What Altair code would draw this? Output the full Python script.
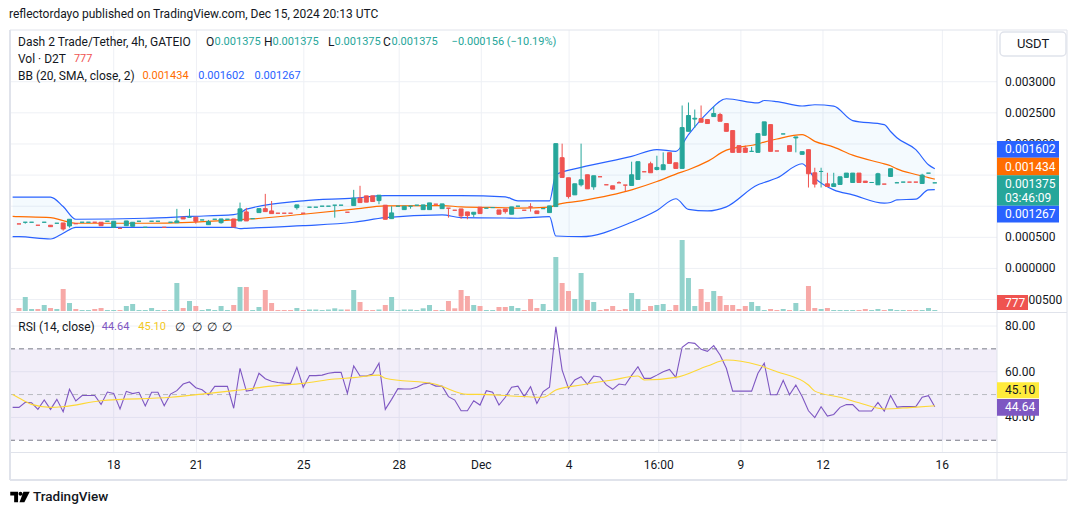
import altair as alt
import pandas as pd

FONT = "Roboto"
TEAL, RED = "#26a69a", "#ef5350"
TEAL_V, RED_V = "#92d2cc", "#f7a9a7"
BLUE, ORANGE, PURPLE, YELLOW = "#2962ff", "#ff6d00", "#7e57c2", "#fdd835"
TXT, GRID, BORDER = "#131722", "#eef0f5", "#e0e3eb"

# ---------------- data (prices in 1e-6 USDT) ----------------
tick_pos = [15.0, 28.1, 45.1, 60.2, 73.2, 87.1, 101.3, 114.3, 127.3, 146.2]
tick_lab = ["18", "21", "25", "28", "Dec", "4", "16:00", "9", "12", "16"]
grid_ticks = [-0.0005, 0.0, 0.0005, 0.001, 0.0015, 0.002, 0.0025, 0.003]
price_ticks = [-0.0005, 0.0, 0.0005, 0.002, 0.0025, 0.003]
price_tick_lab = ["\u22120.000500", "0.000000", "0.000500",
                  "0.002000", "0.002500", "0.003000"]
rsi_ticks = [40, 60, 80]
rsi_tick_lab = ["40.00", "60.00", "80.00"]

open_u = [715,742,742,694,742,694,726,731,682,719,
          742,742,742,742,758,661,645,687,677,758,
          661,758,758,661,742,735,823,823,823,779,
          703,790,735,790,795,763,908,800,897,961,
          924,887,887,887,977,887,984,984,1000,1000,
          1016,1016,903,1010,1129,1166,1166,1090,1016,800,
          1000,945,1000,1016,945,945,1032,961,968,935,
          956,908,871,984,968,978,940,956,871,1000,
          935,989,924,961,897,994,1779,1457,1182,1344,
          1505,1311,1473,1344,1328,1376,1339,1333,1430,1553,
          1682,1590,1586,1860,1698,1607,2203,2400,2408,2392,
          2440,2473,2328,2215,1973,1935,1881,1865,2139,2311,
          1887,2161,1973,2097,1833,1908,1537,1558,1360,1316,
          1349,1462,1381,1532,1403,1381,1344,1355,1478,1376,
          1387,1387,1387,1365,1531,1375]
close_u = [715,742,742,694,742,671,726,634,790,719,
           742,742,742,687,758,758,645,763,742,758,
           661,758,758,661,742,763,795,823,758,779,
           751,790,795,790,666,957,763,800,961,913,
           881,887,887,887,1021,887,984,984,1000,1000,
           1016,1016,903,1129,1058,1065,1075,1177,790,892,
           1000,1000,1000,1016,1021,1053,1032,1037,968,935,
           844,849,903,881,968,978,871,913,989,1000,
           935,989,881,961,1005,2005,1462,1155,1360,1424,
           1279,1489,1473,1344,1274,1376,1339,1505,1715,1553,
           1537,1623,1666,1687,1607,2263,2457,2413,2349,2328,
           2489,2365,2203,1865,1865,1865,1881,2166,2355,1881,
           1887,2161,1881,2113,1876,1521,1355,1558,1316,1360,
           1473,1532,1532,1381,1381,1381,1521,1355,1602,1376,
           1387,1387,1387,1500,1531,1375]
high_u = [715,742,742,694,742,694,726,731,790,719,
          742,742,742,742,758,758,645,763,742,758,
          661,758,758,661,742,957,823,957,823,779,
          779,790,795,790,795,1058,973,800,961,1198,
          1084,887,887,887,1021,887,984,984,1000,1000,
          1016,1016,903,1263,1328,1166,1166,1177,1016,1000,
          1000,1000,1000,1016,1021,1053,1032,1037,968,935,
          956,908,903,984,968,978,940,956,989,1000,
          935,1048,924,961,1005,2005,2005,1457,1360,2005,
          1505,1489,1473,1344,1328,1400,1339,1715,1715,1553,
          1715,1811,1865,1860,1698,2618,2666,2553,2618,2392,
          2602,2500,2328,2215,1973,1973,1952,2166,2355,2311,
          1887,2161,1973,2113,1876,1908,1618,1618,1537,1537,
          1473,1532,1532,1532,1403,1381,1537,1355,1602,1390,
          1387,1387,1387,1521,1531,1375]
low_u = [715,719,742,694,742,671,726,607,655,719,
         742,742,742,687,758,661,645,687,677,758,
         661,758,758,661,742,735,795,823,719,779,
         703,790,719,790,666,763,763,800,897,913,
         881,887,887,887,945,887,984,984,1000,1000,
         816,1016,903,1010,1058,1065,1075,1032,790,800,
         1000,945,960,1016,945,945,1032,961,816,935,
         798,790,827,881,968,978,871,881,871,1000,
         935,913,881,961,897,994,1462,1123,1182,1316,
         1279,1263,1473,1344,1274,1376,1242,1333,1430,1553,
         1537,1575,1586,1687,1607,1607,2203,2258,2349,2328,
         2440,2365,2203,1865,1865,1865,1881,1865,2139,1881,
         1887,2161,1881,1865,1833,1300,1300,1300,1316,1316,
         1349,1462,1381,1381,1381,1381,1344,1355,1478,1376,
         1387,1387,1387,1365,1531,1375]
direction = ("duudududud" "uudduuduuu" "uuuduududu" "uuuududuud" "dddduduuuu"
             "uududddudu" "uuuuuududd" "dduduudduu" "ddduuudduu" "duddddduud"
             "duudduuudd" "uddddduuud" "duduuddudu" "uuudduuduu" "udduuu")
volume = [3,14,2,2,6,3,2,22,8,2,
          1,1,2,3,1,1,1,5,7,1,
          1,3,1,1,1,28,3,10,5,1,
          2,1,5,1,6,24,24,1,4,21,
          8,1,1,1,3,1,1.5,1.5,1,1.5,
          2.7,1.5,1.5,21,9,1,1,1.5,6,14,
          1,1.5,1.5,1,2.7,6,1,1,10,2.7,
          21,15,6,5,1,1,4,4,5,3,
          1,12,3,7,1,54,28,20,12,38,
          11,9,1,2,5,1,2,18,12,1,
          5,6,7,1,6,71,33,5,22,9,
          20,15,6,6,2,5,9,5,1,2,
          1,2,1,8,1,25,3,2,3,1,
          1,1,1,1,2,1,2,1,2,1,
          1,1,1,1,3,1]

bb_idx = [-1,0,5,7,9,20,27,34,35,36,45,53,58,67,70,77,79,84,85,89,
          97,101,104,106,109,112,117,118,120,124,126,129,132,137,138,139,142,144,145]
bb_upper = [1145,1145,1145,994,790,806,835,865,890,952,1086,1129,1171,1171,1171,
            1150,1086,1086,1505,1623,1800,1910,1881,2150,2500,2726,2661,2698,2680,2610,
            2630,2607,2376,2311,2200,2100,1908,1666,1602]
bb_basis = [835,832,816,768,726,726,740,779,785,790,871,952,1005,1010,990,
            975,970,984,1021,1086,1263,1397,1516,1586,1720,1900,2000,2030,2080,2150,
            2042,1950,1820,1680,1650,1600,1510,1460,1434]
bb_lower = [510,510,473,565,661,661,661,661,640,645,687,742,815,860,816,
            810,806,832,521,510,742,930,1120,950,924,990,1344,1380,1452,1682,
            1452,1263,1182,1048,1060,1102,1113,1263,1267]

rsi_start = -1
rsi = [44.4,
       44.4,46.6,46.4,43.5,47.6,43.5,47.9,42.5,52.3,47.2,
       49.6,49.6,49.6,45.7,51.1,50.5,43.7,51.4,50.4,51.0,
       45.0,51.0,51.0,45.1,50.2,51.7,54.6,55.5,53.0,52.1,
       49.8,53.6,53.6,53.6,44.0,61.5,51.5,52.0,59.3,56.9,
       55.8,55.3,55.0,54.9,61.9,53.2,58.3,58.3,58.5,59.3,
       59.7,59.7,50.5,62.5,58.1,58.1,59.0,63.7,43.5,47.9,
       52.6,52.4,52.4,53.2,54.6,55.0,53.7,53.7,49.1,47.6,
       42.9,42.9,47.3,45.4,51.7,51.0,45.4,48.8,53.2,53.7,
       49.1,53.4,46.1,51.3,53.2,79.7,60.7,52.7,56.4,57.8,
       54.5,58.1,57.7,54.2,52.3,54.6,54.2,58.4,62.2,57.1,
       57.1,58.5,60.0,61.0,57.5,70.7,72.8,72.4,69.8,68.9,
       71.4,67.3,61.5,51.5,51.5,51.5,51.5,59.3,63.7,49.9,
       49.9,56.2,49.9,54.2,49.1,42.9,39.9,44.7,40.6,41.3,
       44.4,45.6,45.6,42.8,42.8,42.8,46.6,42.8,49.6,44.5,
       44.7,44.7,44.7,48.8,49.5,44.64]
rsi_ma_idx = [-1,0,2,5,7,13,24,29,34,40,45,50,53,57,58,66,71,73,78,83,85,89,94,98,99,
              104,109,112,117,120,125,126,130,133,137,141,145]
rsi_ma = [50.0,48.5,45.7,44.4,44.7,47.3,48.8,50.2,51.7,53.7,54.9,56.8,57.4,58.5,57.1,
          54.5,50.1,50.1,49.4,48.8,52.0,54.2,56.4,58.1,56.4,57.5,62.5,65.1,62.9,60.0,
          54.2,51.5,48.8,46.4,43.7,44.3,45.1]

# ---------------- frames ----------------
n = len(open_u)
cdf = pd.DataFrame({
    "i": list(range(n)),
    "o": [v / 1e6 for v in open_u], "c": [v / 1e6 for v in close_u],
    "h": [v / 1e6 for v in high_u], "l": [v / 1e6 for v in low_u],
    "col": [TEAL if d == "u" else RED for d in direction],
    "vcol": [TEAL_V if d == "u" else RED_V for d in direction],
    "vol": volume,
})
bdf = pd.DataFrame({"i": bb_idx, "up": [v / 1e6 for v in bb_upper],
                    "mid": [v / 1e6 for v in bb_basis], "lo": [v / 1e6 for v in bb_lower]})
rdf = pd.DataFrame({"i": list(range(rsi_start, rsi_start + len(rsi))), "r": rsi})
mdf = pd.DataFrame({"i": rsi_ma_idx, "m": rsi_ma})
tdf = pd.DataFrame({"pos": tick_pos, "lab": tick_lab})
gdf = pd.DataFrame({"v": grid_ticks})
pdf = pd.DataFrame({"v": price_ticks, "lab": price_tick_lab})
rtdf = pd.DataFrame({"v": rsi_ticks, "lab": rsi_tick_lab})

XS = alt.Scale(domain=[-0.627, 153.9], nice=False, zero=False)
PS = alt.Scale(domain=[-0.000716, 0.003831], range=[283, 0], nice=False, zero=False)
VS = alt.Scale(domain=[0, 281], range=[281, 0], nice=False, zero=True)
RS = alt.Scale(domain=[24.86, 85.69], range=[422, 283], nice=False, zero=False)

X = alt.X("i:Q", scale=XS, axis=None)
ONE = alt.Data(values=[{"a": 1}])


def txt(s, x, y, color=TXT, size=12, align="left", weight="normal"):
    return alt.Chart(ONE).mark_text(text=s, align=align, baseline="middle", fontSize=size,
                                    font=FONT, color=color, fontWeight=weight
                                    ).encode(x=alt.value(x), y=alt.value(y))


def hrule(y, x1, x2, color=BORDER, w=1):
    return alt.Chart(ONE).mark_rule(color=color, strokeWidth=w).encode(
        x=alt.value(x1), x2=alt.value(x2), y=alt.value(y))


def vrule(x, y1, y2, color=BORDER, w=1):
    return alt.Chart(ONE).mark_rule(color=color, strokeWidth=w).encode(
        x=alt.value(x), y=alt.value(y1), y2=alt.value(y2))


def tag(v, scale, label, bg, fg, top, bot, x1, x2, extra=None):
    layers = [alt.Chart(ONE).mark_rect(color=bg, yOffset=top, y2Offset=bot).encode(
        x=alt.value(x1), x2=alt.value(x2),
        y=alt.YDatum(v, type="quantitative", scale=scale, axis=None),
        y2=alt.Y2Datum(v))]
    texts = [(label, (top + bot) / 2 if extra is None else top + 8.2)]
    if extra is not None:
        texts.append((extra, top + 22.4))
    for s, off in texts:
        layers.append(alt.Chart(ONE).mark_text(
            text=s, align="left", baseline="middle", fontSize=12, font=FONT,
            color=fg, dy=off).encode(
            x=alt.value(x1 + 8), y=alt.YDatum(v, type="quantitative", scale=scale, axis=None)))
    return layers


layers = []
# grids
layers.append(alt.Chart(tdf).mark_rule(color=GRID).encode(
    x=alt.X("pos:Q", scale=XS, axis=None), y=alt.value(0), y2=alt.value(422)))
layers.append(alt.Chart(gdf).mark_rule(color=GRID).encode(
    y=alt.Y("v:Q", scale=PS, axis=None), x=alt.value(0), x2=alt.value(987)))
layers.append(alt.Chart(rtdf).mark_rule(color=GRID).encode(
    y=alt.Y("v:Q", scale=RS, axis=None), x=alt.value(0), x2=alt.value(987)))
# RSI band + levels
layers.append(alt.Chart(ONE).mark_rect(color=PURPLE, opacity=0.1).encode(
    x=alt.value(0), x2=alt.value(987),
    y=alt.YDatum(70, type="quantitative", scale=RS, axis=None), y2=alt.Y2Datum(30)))
layers.append(alt.Chart(pd.DataFrame({"lv": [70, 30]})).mark_rule(
    color="#787b86", strokeDash=[5, 4]).encode(
    y=alt.Y("lv:Q", scale=RS, axis=None), x=alt.value(0), x2=alt.value(987)))
layers.append(alt.Chart(pd.DataFrame({"lv": [50]})).mark_rule(
    color="#b8bac1", strokeDash=[5, 4]).encode(
    y=alt.Y("lv:Q", scale=RS, axis=None), x=alt.value(0), x2=alt.value(987)))
# BB fill
layers.append(alt.Chart(bdf).mark_area(color="#2196f3", opacity=0.05, clip=True,
                                       interpolate="monotone").encode(
    x=X, y=alt.Y("up:Q", scale=PS, axis=None), y2="lo:Q"))
# volume
layers.append(alt.Chart(cdf).mark_bar(size=5).encode(
    x=X, y=alt.Y("vol:Q", scale=VS, axis=None), color=alt.Color("vcol:N", scale=None)))
# BB lines
for fld, col in [("up", BLUE), ("lo", BLUE), ("mid", ORANGE)]:
    layers.append(alt.Chart(bdf).mark_line(color=col, strokeWidth=1.2, clip=True,
                                           interpolate="monotone").encode(
        x=X, y=alt.Y(f"{fld}:Q", scale=PS, axis=None)))
# candles
layers.append(alt.Chart(cdf).mark_rule(strokeWidth=1).encode(
    x=X, y=alt.Y("l:Q", scale=PS, axis=None), y2="h:Q",
    color=alt.Color("col:N", scale=None)))
layers.append(alt.Chart(cdf).mark_bar(size=4, strokeWidth=1).encode(
    x=X, y=alt.Y("o:Q", scale=PS, axis=None), y2="c:Q",
    color=alt.Color("col:N", scale=None), stroke=alt.Stroke("col:N", scale=None)))
# RSI
layers.append(alt.Chart(rdf).mark_line(color=PURPLE, strokeWidth=1.1, clip=True).encode(
    x=X, y=alt.Y("r:Q", scale=RS, axis=None)))
layers.append(alt.Chart(mdf).mark_line(color=YELLOW, strokeWidth=1.1, clip=True,
                                       interpolate="monotone").encode(
    x=X, y=alt.Y("m:Q", scale=RS, axis=None)))

# frame
layers += [vrule(0, 0, 450, w=2), hrule(0, 0, 1057), vrule(1057, 0, 450),
           vrule(987, 0, 450), hrule(282.5, 0, 1057), hrule(422.5, 0, 1057),
           hrule(450, 0, 1057, w=2)]

# right axis labels
layers.append(alt.Chart(pdf).mark_text(align="left", baseline="middle", fontSize=12,
                                       font=FONT, color=TXT).encode(
    x=alt.value(995), y=alt.Y("v:Q", scale=PS, axis=None), text="lab:N"))
layers.append(alt.Chart(rtdf).mark_text(align="left", baseline="middle", fontSize=12,
                                        font=FONT, color=TXT).encode(
    x=alt.value(995), y=alt.Y("v:Q", scale=RS, axis=None), text="lab:N"))

# tags
layers += tag(0.001602, PS, "0.001602", BLUE, "white", -27.7, -11, 987, 1049)
layers += tag(0.001434, PS, "0.001434", ORANGE, "white", -21.4, -3.8, 987, 1049)
layers += tag(0.001375, PS, "0.001375", TEAL, "white", -7.5, 22.9, 987, 1049, extra="03:46:09")
layers += tag(0.001267, PS, "0.001267", BLUE, "white", 16.2, 32.8, 987, 1049)
layers += tag(volume[-1], VS, "777", RED, "white", -15, 0, 987, 1018)
layers += tag(45.10, RS, "45.10", "#ffeb3b", TXT, -23.4, -7.4, 987, 1029)
layers += tag(44.64, RS, "44.64", PURPLE, "white", -7.8, 8.9, 987, 1029)

# USDT box
layers.append(alt.Chart(ONE).mark_rect(fill="white", stroke=BORDER, strokeWidth=1.5,
                                       cornerRadius=4).encode(
    x=alt.value(990), x2=alt.value(1056), y=alt.value(2), y2=alt.value(26)))
layers.append(txt("USDT", 1023, 14, size=13, align="center"))

# time labels
layers.append(alt.Chart(tdf).mark_text(align="center", baseline="middle", fontSize=12,
                                       font=FONT, color=TXT).encode(
    x=alt.X("pos:Q", scale=XS, axis=None), y=alt.value(435), text="lab:N"))

# header + legends
NUM = 11
layers += [
    txt("reflectordayo published on TradingView.com, Dec 15, 2024 20:13 UTC", -1, -16),
    txt("Dash 2 Trade/Tether, 4h, GATEIO", 8, 12),
    txt("O", 196, 12), txt("0.001375", 204.5, 12, TEAL, size=NUM),
    txt("H", 254, 12), txt("0.001375", 262.5, 12, TEAL, size=NUM),
    txt("L", 318, 12), txt("0.001375", 324.5, 12, TEAL, size=NUM),
    txt("C", 373, 12), txt("0.001375", 381.5, 12, TEAL, size=NUM),
    txt("\u22120.000156 (\u221210.19%)", 441.6, 12, TEAL, size=NUM),
    txt("Vol \u00b7 D2T", 8, 29), txt("777", 63.9, 29, RED, size=NUM),
    txt("BB (20, SMA, close, 2)", 8, 45.5),
    txt("0.001434", 132.4, 45.5, ORANGE, size=NUM), txt("0.001602", 188.2, 45.5, BLUE, size=NUM),
    txt("0.001267", 244.5, 45.5, BLUE, size=NUM),
    txt("RSI (14, close)", 8.3, 296.5),
    txt("44.64", 91.7, 296.5, PURPLE, size=NUM), txt("45.10", 128.3, 296.5, "#f2c81d", size=NUM),
    txt("\u2205", 165, 296.5), txt("\u2205", 181.7, 296.5),
    txt("\u2205", 196.7, 296.5), txt("\u2205", 211.7, 296.5),
    txt("TradingView", 23, 467, size=13.5, weight=500),
]
# footer logo
logo = ("M-1,-0.55H-0.2V0.55H-0.6V-0.15H-1Z "
        "M-0.15,-0.33A0.2,0.2 0 1,0 0.25,-0.33A0.2,0.2 0 1,0 -0.15,-0.33Z "
        "M0.35,-0.55H1L0.45,0.55H-0.05Z")
layers.append(alt.Chart(ONE).mark_point(shape=logo, size=380, filled=True, color="#000000",
                                        opacity=1, strokeWidth=0).encode(
    x=alt.value(10), y=alt.value(467)))

chart = alt.layer(*layers).resolve_scale(y="independent").properties(
    width=986, height=450,
    autosize=alt.AutoSizeParams(type="none"),
    padding={"left": 2, "top": 22, "right": 76, "bottom": 30},
    background="white",
).configure_view(stroke=None)

chart.save("out.html", embed_options={"renderer": "svg", "actions": False})
